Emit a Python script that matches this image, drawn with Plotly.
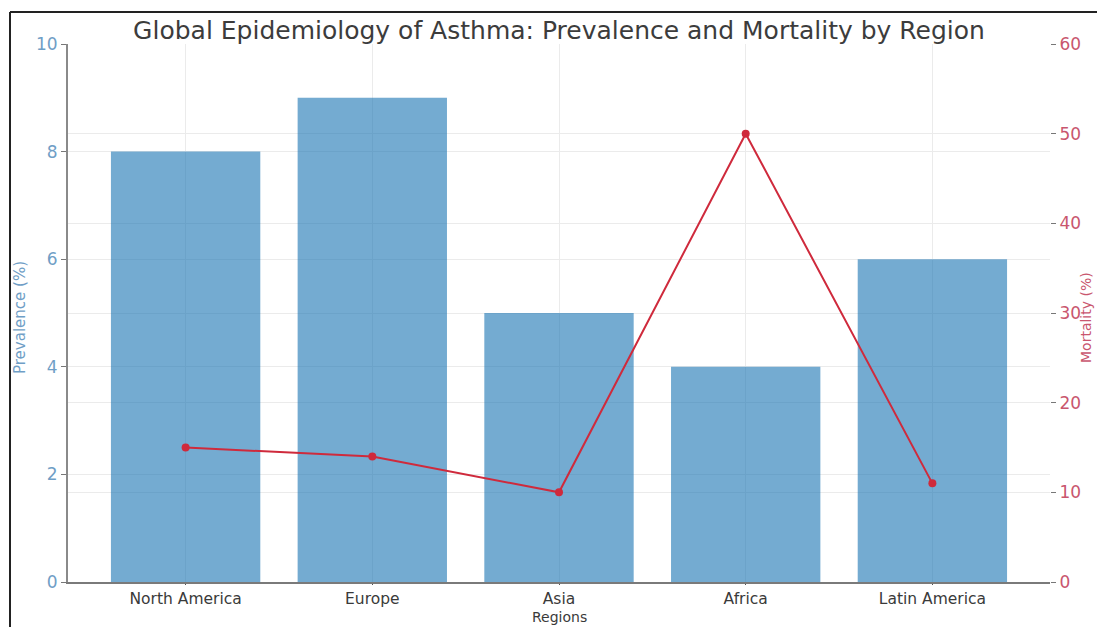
import plotly.graph_objects as go

regions = ["North America", "Europe", "Asia", "Africa", "Latin America"]
prevalence = [8, 9, 5, 4, 6]
mortality = [15, 14, 10, 50, 11]

prev_ticks = [0, 2, 4, 6, 8, 10]
mort_ticks = [0, 10, 20, 30, 40, 50, 60]

W, H = 1097, 627
ML, MR, MT, MB = 68, 47, 44, 45
FONT = "DejaVu Sans"
BLUE_TXT = "#6f9ec6"
RED_TXT = "#c9566e"

plot_w = W - ML - MR
plot_h = H - MT - MB


def px_x(px):
    return (px - ML) / plot_w


def px_y(py):
    return (H - MB - py) / plot_h


fig = go.Figure()

fig.add_trace(go.Bar(
    x=regions, y=prevalence, name="Prevalence (%)",
    marker=dict(color="rgba(31,119,180,0.62)", line=dict(width=0)),
    width=0.8,
))

fig.add_trace(go.Scatter(
    x=regions, y=mortality, name="Mortality (%)", yaxis="y2",
    mode="lines+markers",
    line=dict(color="#cf2a3c", width=2),
    marker=dict(color="#cf2a3c", size=8),
))

# frame around the figure (left and top edges)
fig.add_shape(type="line", xref="paper", yref="paper",
              x0=px_x(10), x1=px_x(W + 5), y0=px_y(12), y1=px_y(12),
              line=dict(color="#222", width=2))
fig.add_shape(type="line", xref="paper", yref="paper",
              x0=px_x(10), x1=px_x(10), y0=px_y(12), y1=px_y(H + 5),
              line=dict(color="#222", width=2))

# axis titles
fig.add_annotation(text="Prevalence (%)", xref="paper", yref="paper",
                   x=px_x(20), y=px_y(318), xanchor="center", yanchor="middle",
                   textangle=-90, showarrow=False,
                   font=dict(size=15, color=BLUE_TXT, family=FONT))
fig.add_annotation(text="Mortality (%)", xref="paper", yref="paper",
                   x=px_x(1086), y=px_y(318), xanchor="center", yanchor="middle",
                   textangle=-90, showarrow=False,
                   font=dict(size=14, color=RED_TXT, family=FONT))
fig.add_annotation(text="Regions", xref="paper", yref="paper",
                   x=px_x(559), y=px_y(617), xanchor="center", yanchor="middle",
                   showarrow=False,
                   font=dict(size=14, color="#3a3a3a", family=FONT))

fig.update_layout(
    width=W, height=H,
    margin=dict(l=ML, r=MR, t=MT, b=MB, autoexpand=False),
    paper_bgcolor="white", plot_bgcolor="white",
    showlegend=False,
    font=dict(family=FONT, color="#444"),
    title=dict(
        text="Global Epidemiology of Asthma: Prevalence and Mortality by Region",
        x=(559 / W), xanchor="center", y=1 - 30 / H, yanchor="middle",
        font=dict(size=25, color="#3c3c3c", family=FONT),
    ),
    xaxis=dict(
        range=[-0.63, 4.63], automargin=False,
        showgrid=True, gridcolor="#ebebeb", gridwidth=1,
        showline=True, linecolor="#7a7a7a", linewidth=2,
        ticks="outside", ticklen=1, tickcolor="#555",
        tickfont=dict(size=15.5, color="#3a3a3a"),
        zeroline=False,
    ),
    yaxis=dict(
        range=[0, 10], tickvals=prev_ticks, automargin=False,
        showgrid=True, gridcolor="#ebebeb", gridwidth=1,
        showline=True, linecolor="#8a8a8a", linewidth=2,
        ticks="outside", ticklen=5, tickcolor="#777",
        tickfont=dict(size=17, color=BLUE_TXT),
        zeroline=False,
    ),
    yaxis2=dict(
        range=[0, 60], tickvals=mort_ticks, overlaying="y", side="right",
        automargin=False,
        showgrid=True, gridcolor="#ebebeb", gridwidth=1,
        showline=False,
        ticks="outside", ticklen=5, tickcolor="#777",
        tickfont=dict(size=17, color=RED_TXT),
        zeroline=False,
    ),
)

fig.write_html("out.html")
